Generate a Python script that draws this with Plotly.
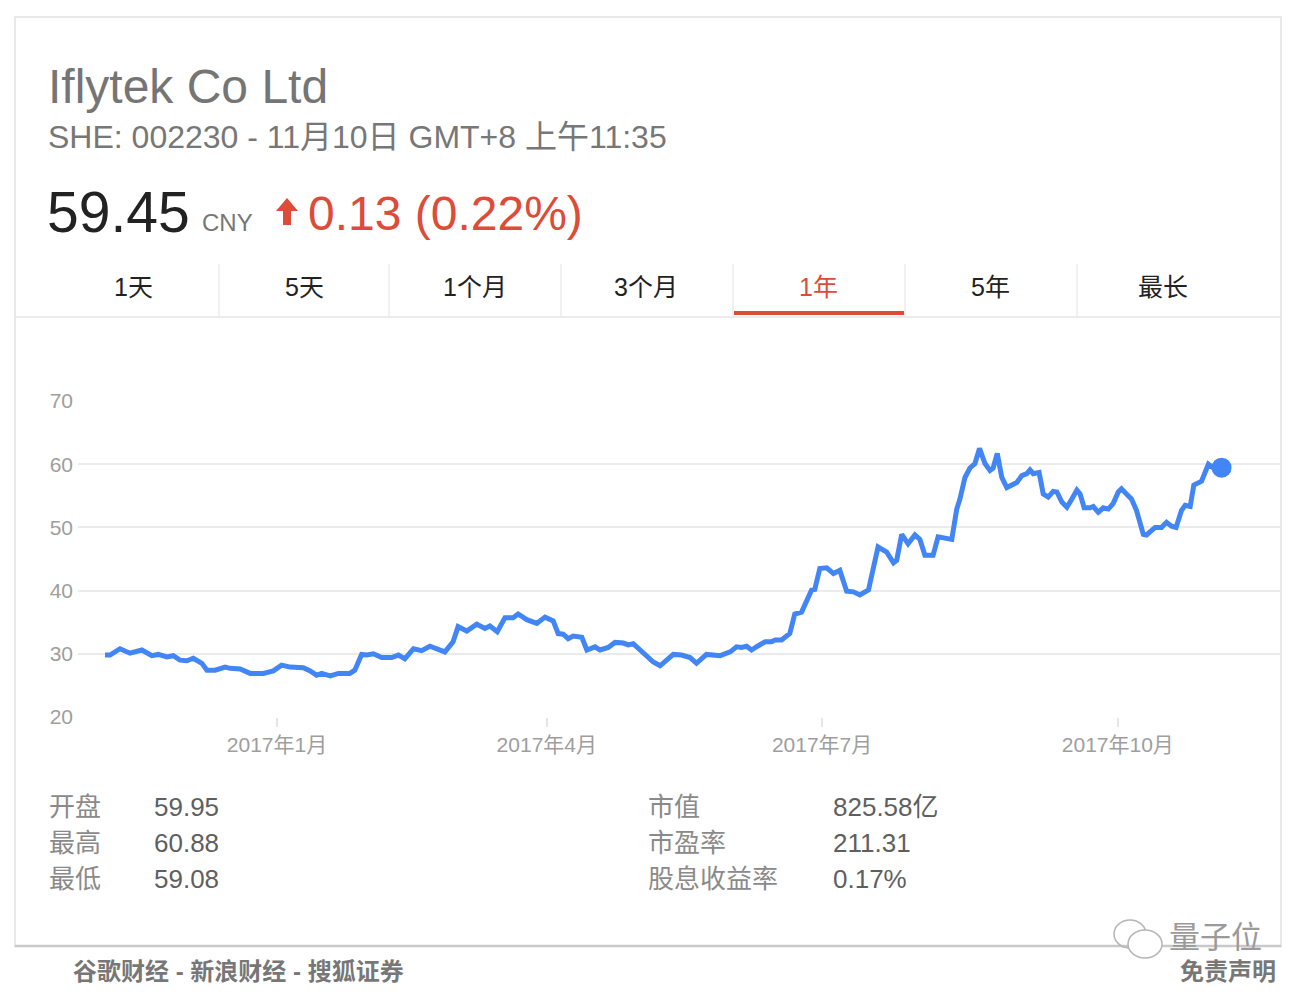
import plotly.graph_objects as go

W, H = 1306, 994
FONT = "Liberation Sans, Arial, Noto Sans CJK SC, sans-serif"

# trading-day index since 2016-11-10 and closing price (CNY)
days = [0.0, 1.1, 3.3, 5.5, 8.1, 10.3, 11.7, 13.6, 15.0, 16.5, 18.0, 19.4, 21.3, 22.4,
        24.2, 26.4, 27.5, 29.7, 31.9, 34.8, 37.0, 38.8, 40.7, 42.5, 43.6, 45.1, 46.5,
        47.6, 49.5, 51.3, 53.8, 54.9, 56.4, 57.5, 59.0, 60.8, 63.0, 64.5, 65.9, 67.8,
        69.6, 71.4, 74.7, 76.5, 77.6, 79.5, 81.7, 83.5, 84.6, 86.2, 87.9, 89.7, 90.8,
        92.7, 94.9, 96.7, 98.5, 99.6, 100.7, 101.8, 102.9, 104.8, 105.9, 107.7, 108.8,
        110.6, 112.1, 113.9, 115.0, 116.1, 118.7, 120.5, 122.0, 124.9, 126.7, 128.6,
        130.0, 132.2, 135.2, 137.4, 138.8, 139.9, 141.0, 142.1, 143.4, 145.1, 146.5,
        147.3, 148.7, 150.5, 151.6, 153.1, 155.3, 156.0, 157.1, 158.6, 160.1, 161.5,
        163.0, 164.5, 165.9, 167.8, 169.9, 171.8, 173.3, 174.0, 175.1, 176.5, 178.0,
        179.1, 180.2, 182.0, 183.1, 186.1, 187.2, 187.9, 189.0, 190.1, 191.2, 192.2,
        193.4, 194.5, 195.2, 196.1, 197.1, 198.2, 200.4, 201.5, 202.6, 203.3, 204.0,
        205.3, 206.2, 207.3, 208.4, 209.2, 210.3, 211.4, 212.5, 213.6, 214.3, 215.2,
        216.5, 217.2, 218.3, 219.4, 220.5, 221.6, 222.7, 223.4, 224.5, 225.6, 226.7,
        228.2, 228.9, 230.8, 232.2, 233.3, 234.4, 235.4, 236.6, 237.4, 238.5, 239.3,
        241.0, 242.5, 243.6, 245.4]
price = [29.8, 29.8, 30.8, 30.1, 30.6, 29.7, 29.9, 29.5, 29.7, 29.0, 28.9, 29.3, 28.5, 27.4,
         27.4, 27.9, 27.7, 27.6, 26.9, 26.9, 27.3, 28.2, 27.9, 27.9, 27.8, 27.3, 26.6,
         26.9, 26.5, 26.9, 26.9, 27.4, 29.9, 29.8, 30.0, 29.4, 29.4, 29.8, 29.2, 30.8,
         30.5, 31.2, 30.3, 31.9, 34.3, 33.6, 34.7, 34.0, 34.4, 33.5, 35.7, 35.7, 36.3,
         35.4, 34.8, 35.8, 35.2, 33.2, 33.1, 32.4, 32.8, 32.6, 30.6, 31.1, 30.6,
         31.0, 31.8, 31.7, 31.4, 31.6, 30.0, 28.7, 28.1, 29.9, 29.8, 29.4,
         28.5, 29.9, 29.7, 30.3, 31.1, 31.0, 31.2, 30.6, 31.2, 31.9, 31.9,
         32.2, 32.2, 33.2, 36.3, 36.6, 40.1, 40.2, 43.5, 43.6, 42.7, 43.2,
         39.9, 39.8, 39.3, 40.1, 46.9, 46.1, 44.4, 44.8, 48.9, 47.4, 48.8,
         48.1, 45.6, 45.6, 48.5, 48.1, 52.9, 54.5, 57.9, 59.4, 60.1, 62.5,
         60.1, 59.0, 59.4, 61.7, 57.9, 56.3, 57.1, 58.2, 58.5, 59.1, 58.5,
         58.7, 55.3, 54.8, 55.7, 55.6, 54.0, 53.2, 54.5, 55.9, 55.3, 53.1,
         53.1, 53.3, 52.4, 53.1, 52.9, 53.8, 55.6, 56.1, 55.3, 54.5, 52.7,
         48.9, 48.8, 50.0, 50.0, 50.8, 50.2, 50.0, 52.7, 53.5, 53.3, 56.7,
         57.3, 60.0, 59.4, 59.45]

tick_days = [37.8, 97.1, 157.6, 222.6]
tick_labels = ["2017年1月", "2017年4月", "2017年7月", "2017年10月"]
y_ticks = [20, 30, 40, 50, 60, 70]

tabs = ["1天", "5天", "1个月", "3个月", "1年", "5年", "最长"]
tab_x = [133, 304, 475, 646, 818, 990, 1163]
tab_sep = [219, 389, 561, 733, 905, 1077]
stats_left = [("开盘", "59.95"), ("最高", "60.88"), ("最低", "59.08")]
stats_right = [("市值", "825.58亿"), ("市盈率", "211.31"), ("股息收益率", "0.17%")]


def fx(x):
    return x / W


def fy(y):
    return 1 - y / H


fig = go.Figure()
fig.add_trace(go.Scatter(x=days, y=price, mode="lines",
                         line=dict(color="#4285f4", width=5), hoverinfo="skip"))
fig.add_trace(go.Scatter(x=days[-1:], y=price[-1:], mode="markers",
                         marker=dict(color="#4285f4", size=20), hoverinfo="skip"))

shapes = []
# card
shapes.append(dict(type="rect", xref="paper", yref="paper", x0=fx(15), x1=fx(1281),
                   y0=fy(946), y1=fy(17), line=dict(color="#e2e2e2", width=1.5),
                   fillcolor="white", layer="below"))
shapes.append(dict(type="line", xref="paper", yref="paper", x0=fx(15), x1=fx(1281),
                   y0=fy(946), y1=fy(946), line=dict(color="#c9c9c9", width=2.5)))
# tab bar
shapes.append(dict(type="line", xref="paper", yref="paper", x0=fx(15), x1=fx(1281),
                   y0=fy(317), y1=fy(317), line=dict(color="#ebebeb", width=2)))
for s in tab_sep:
    shapes.append(dict(type="line", xref="paper", yref="paper", x0=fx(s), x1=fx(s),
                       y0=fy(264), y1=fy(316), line=dict(color="#ececec", width=1.5)))
shapes.append(dict(type="rect", xref="paper", yref="paper", x0=fx(734), x1=fx(904),
                   y0=fy(315), y1=fy(311), line=dict(width=0), fillcolor="#dd4b39"))
# up arrow
ax = [(287, 198), (298, 211), (291, 211), (291, 225), (283, 225), (283, 211), (276, 211)]
path = "M " + " L ".join(f"{fx(a):.5f},{fy(b):.5f}" for a, b in ax) + " Z"
shapes.append(dict(type="path", xref="paper", yref="paper", path=path,
                   fillcolor="#dd4b39", line=dict(width=0)))
# wechat-ish icon next to watermark
shapes.append(dict(type="circle", xref="paper", yref="paper", x0=fx(1114), x1=fx(1146),
                   y0=fy(948), y1=fy(920), line=dict(color="#b5b5b5", width=1.5)))
shapes.append(dict(type="circle", xref="paper", yref="paper", x0=fx(1128), x1=fx(1162),
                   y0=fy(958), y1=fy(930), line=dict(color="#b5b5b5", width=1.5),
                   fillcolor="white"))

ann = []


def text(x, y, s, size, color, anchor="left", weight="normal"):
    ann.append(dict(x=fx(x), y=fy(y), xref="paper", yref="paper", text=s, showarrow=False,
                    xanchor=anchor, yanchor="middle",
                    font=dict(family=FONT, size=size, color=color, weight=weight)))


text(46, 86, "Iflytek Co Ltd", 48, "#757575")
text(46, 137, "SHE: 002230 - 11月10日 GMT+8 上午11:35", 32, "#777777")
text(45, 212, "59.45", 57, "#222222")
text(200, 223, "CNY", 24, "#777777")
text(306, 214, "0.13 (0.22%)", 48, "#dd4b39")
for t, x in zip(tabs, tab_x):
    text(x, 287, t, 25, "#dd4b39" if t == "1年" else "#222222", anchor="center")
for i, (lab, val) in enumerate(stats_left):
    text(47, 807 + 36 * i, lab, 26, "#8a8a8a")
    text(152, 807 + 36 * i, val, 26, "#5f5f5f")
for i, (lab, val) in enumerate(stats_right):
    text(646, 807 + 36 * i, lab, 26, "#8a8a8a")
    text(831, 807 + 36 * i, val, 26, "#5f5f5f")
text(71, 971, "谷歌财经 - 新浪财经 - 搜狐证券", 24, "#777777", weight="bold")
text(1278, 971, "免责声明", 24, "#777777", anchor="right", weight="bold")
text(1264, 937, "量子位", 31, "#9a9a9a", anchor="right")

px_per_day = 4.55
fig.update_layout(
    width=W, height=H, margin=dict(l=0, r=0, t=0, b=0, pad=0, autoexpand=False),
    paper_bgcolor="white", plot_bgcolor="rgba(0,0,0,0)",
    showlegend=False, shapes=shapes, annotations=ann,
    font=dict(family=FONT),
    xaxis=dict(domain=[fx(78), fx(1280)], automargin=False,
               range=[(78 - 105) / px_per_day, (1280 - 105) / px_per_day],
               tickvals=tick_days, ticktext=tick_labels, showgrid=False, zeroline=False,
               ticks="outside", ticklen=9, tickcolor="#e6e6e6", tickwidth=1.5,
               tickfont=dict(size=21, color="#9e9e9e"), fixedrange=True),
    yaxis=dict(domain=[fy(717), fy(401)], range=[20, 70], tickvals=y_ticks, automargin=False,
               showgrid=True, gridcolor="#ebebeb", gridwidth=1.5, zeroline=False,
               ticks="", ticklabelstandoff=4,
               tickfont=dict(size=21, color="#9e9e9e"), fixedrange=True),
)

fig.write_html("out.html", config={"displayModeBar": False},
               post_script="document.body.style.margin='0';")
